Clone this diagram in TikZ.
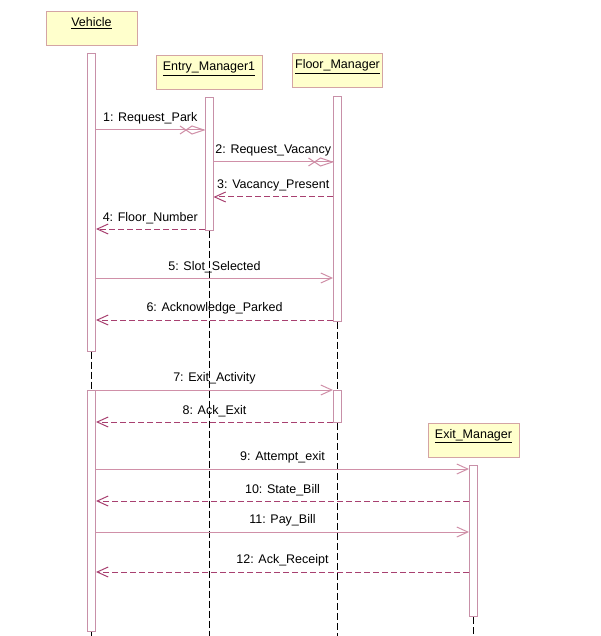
\documentclass[tikz,border=0pt]{standalone}
\usepackage{fontspec}
\setmainfont{Liberation Sans}
\usepackage{tikz}
\usetikzlibrary{
    arrows,
    arrows.meta,
    positioning,
    calc
}
\definecolor{objfill}{HTML}{FFFFCC}
\definecolor{objline}{HTML}{D4A4A4}
\definecolor{barline}{HTML}{C890A8}
\definecolor{msgline}{HTML}{D090A8}
\definecolor{retline}{HTML}{A84070}

% crossed open head used for the first two calls
\pgfarrowsdeclare{rosecall}{rosecall}
{\pgfarrowsleftextend{-24pt}\pgfarrowsrightextend{0.5\pgflinewidth}}
{\pgfsetdash{}{0pt}\pgfsetmiterjoin
 \pgfpathmoveto{\pgfpoint{-24pt}{4pt}}
 \pgfpathlineto{\pgfpoint{-12pt}{-4pt}}
 \pgfpathlineto{\pgfpoint{0pt}{0pt}}
 \pgfpathlineto{\pgfpoint{-12pt}{4pt}}
 \pgfpathlineto{\pgfpoint{-24pt}{-4pt}}
 \pgfusepathqstroke}

\tikzset{
    obj/.style={draw=objline, fill=objfill, line width=1pt, minimum height=34pt,
        inner xsep=0pt, inner ysep=2pt, text height=13pt, text depth=17pt},
    bar/.style={draw=barline, fill=white, line width=1pt, minimum width=8pt, inner sep=0pt},
    life/.style={draw=black, line width=1pt, dash pattern=on 7pt off 3pt},
    call/.style={draw=msgline, line width=1pt, -rosecall},
    sync/.style={draw=msgline, line width=1pt, -{Straight Barb[length=11pt,width=10pt]}},
    ret/.style={draw=retline, line width=1pt, dash pattern=on 6pt off 3pt,
        -{Straight Barb[length=11pt,width=10pt]}},
    lbl/.style={midway, above=4pt, inner sep=1pt, text=black}
}

\begin{document}
\begin{tikzpicture}[x=1pt, y=-1pt, font=\fontsize{12.5}{15}\selectfont]
    \useasboundingbox (0,0) rectangle (600,636);
    \coordinate (bot) at (0,636);

    % objects
    \node[obj, minimum width=91pt] (veh) at (91.5,29) {\underline{Vehicle}};
    \node[obj, minimum width=106pt] (entry) at (209,73) {\underline{Entry\_Manager1}};
    \node[obj, minimum width=90pt] (floor) at (337.5,71) {\underline{Floor\_Manager}};
    \node[obj, minimum width=91pt, minimum height=33pt] (exitm) at (473.5,440.5) {\underline{Exit\_Manager}};

    % activations
    \node[bar, minimum height=297pt, below=7pt of veh] (vbar1) {};
    \node[bar, minimum height=241pt, anchor=north] (vbar2) at (vbar1 |- 0,390) {};
    \node[bar, minimum height=132pt, below=7pt of entry] (ebar) {};
    \node[bar, minimum height=224pt, below=8pt of floor] (fbar1) {};
    \node[bar, minimum height=32pt, anchor=north] (fbar2) at (fbar1 |- 0,390) {};
    \node[bar, minimum height=151pt, below=7pt of exitm] (xbar) {};

    % lifelines
    \draw[life] (vbar1.south) -- (vbar2.north);
    \draw[life] (vbar2.south) -- (vbar2.south |- bot);
    \draw[life] (ebar.south) -- (ebar.south |- bot);
    \draw[life] (fbar1.south) -- (fbar2.north);
    \draw[life] (fbar2.south) -- (fbar2.south |- bot);
    \draw[life] (xbar.south) -- (xbar.south |- bot);

    % messages
    \draw[call] (vbar1.east |- 0,130) -- (ebar.west |- 0,130) node[lbl] {1: Request\_Park};
    \draw[call] (ebar.east |- 0,162) -- (fbar1.west |- 0,162) node[lbl] {2: Request\_Vacancy};
    \draw[ret] (fbar1.west |- 0,197) -- (ebar.east |- 0,197) node[lbl] {3: Vacancy\_Present};
    \draw[ret] (ebar.west |- 0,229) -- (vbar1.east |- 0,229) node[lbl] {4: Floor\_Number};
    \draw[sync] (vbar1.east |- 0,278) -- (fbar1.west |- 0,278) node[lbl] {5: Slot\_Selected};
    \draw[ret] (fbar1.west |- 0,320) -- (vbar1.east |- 0,320) node[lbl] {6: Acknowledge\_Parked};
    \draw[sync] (vbar2.east |- 0,390) -- (fbar2.west |- 0,390) node[lbl] {7: Exit\_Activity};
    \draw[ret] (fbar2.west |- 0,422) -- (vbar2.east |- 0,422) node[lbl] {8: Ack\_Exit};
    \draw[sync] (vbar2.east |- 0,469) -- (xbar.west |- 0,469) node[lbl] {9: Attempt\_exit};
    \draw[ret] (xbar.west |- 0,501) -- (vbar2.east |- 0,501) node[lbl] {10: State\_Bill};
    \draw[sync] (vbar2.east |- 0,532) -- (xbar.west |- 0,532) node[lbl] {11: Pay\_Bill};
    \draw[ret] (xbar.west |- 0,572) -- (vbar2.east |- 0,572) node[lbl] {12: Ack\_Receipt};
\end{tikzpicture}
\end{document}
